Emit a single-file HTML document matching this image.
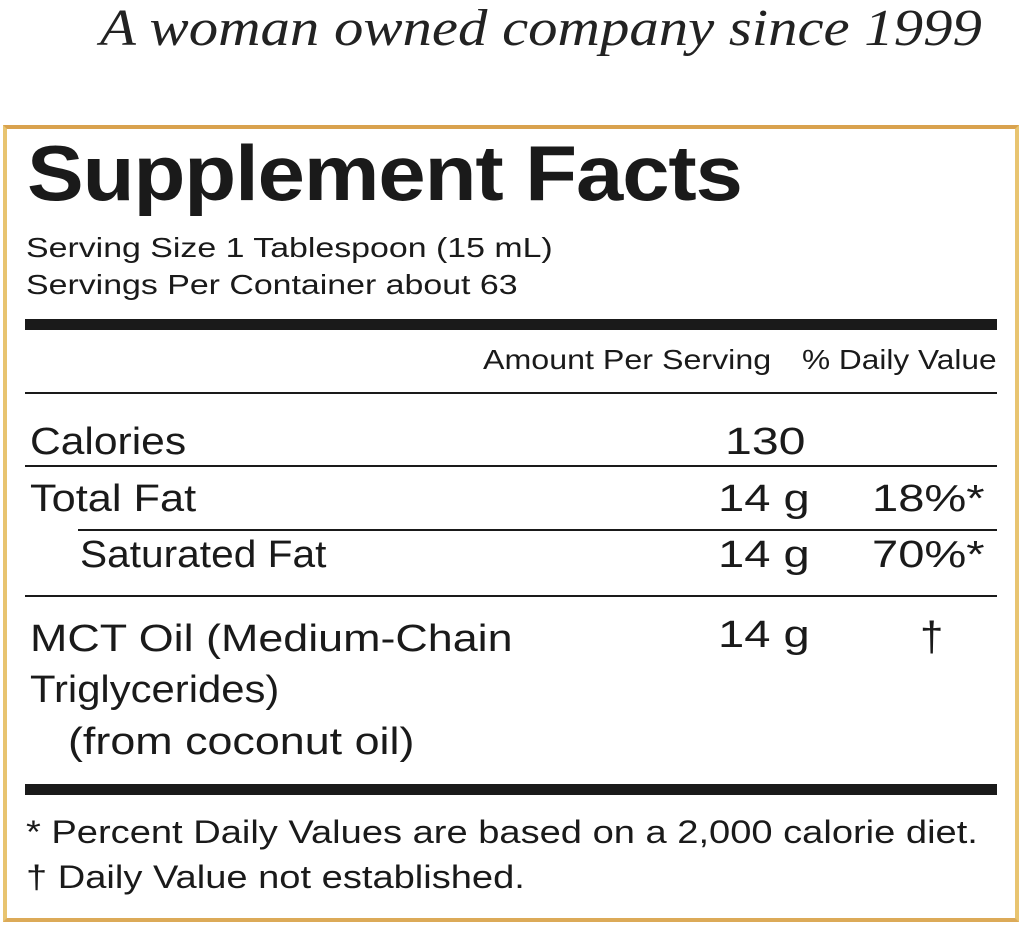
<!DOCTYPE html>
<html><head><meta charset="utf-8"><style>
body{margin:0;width:1024px;height:926px;background:#fff;position:relative;overflow:hidden;font-family:"Liberation Sans",sans-serif;color:#1a1a1a}
.t{position:absolute;line-height:1;white-space:nowrap;transform-origin:0 0}
.l{position:absolute;left:25px;width:972px;background:#1a1a1a}
.box{position:absolute;left:3px;top:125px;width:1008px;height:789px;border:4px solid #e8c470;border-top-color:#d9a24e;border-bottom-color:#dcaa58}
</style></head><body>
<div class="t" style="left:100px;top:3px;font-family:'Liberation Serif',serif;font-style:italic;font-size:52px;color:#222;transform:scaleX(1.13)">A woman owned company since 1999</div>
<div class="box"></div>
<div class="t" style="left:27px;top:134px;font-size:78px;font-weight:bold;letter-spacing:-1px;transform:scaleX(1.09)">Supplement Facts</div>
<div class="t" style="left:26px;top:234px;font-size:28px;transform:scaleX(1.21)">Serving Size 1 Tablespoon (15 mL)</div>
<div class="t" style="left:26px;top:271px;font-size:28px;transform:scaleX(1.21)">Servings Per Container about 63</div>
<div class="l" style="top:319px;height:11px"></div>
<div class="t" style="left:483px;top:346px;font-size:28px;transform:scaleX(1.15)">Amount Per Serving</div>
<div class="t" style="left:802px;top:346px;font-size:28px;transform:scaleX(1.13)">% Daily Value</div>
<div class="l" style="top:392px;height:2px"></div>
<div class="t" style="left:30px;top:423px;font-size:38px;transform:scaleX(1.12)">Calories</div>
<div class="t" style="left:725px;top:423px;font-size:38px;transform:scaleX(1.27)">130</div>
<div class="l" style="top:465px;height:2px"></div>
<div class="t" style="left:30px;top:480px;font-size:38px;transform:scaleX(1.14)">Total Fat</div>
<div class="t" style="left:718px;top:480px;font-size:38px;transform:scaleX(1.24)">14 g</div>
<div class="t" style="left:872px;top:480px;font-size:38px;transform:scaleX(1.24)">18%*</div>
<div class="l" style="top:529px;height:2px;left:78px;width:919px"></div>
<div class="t" style="left:80px;top:536px;font-size:38px;transform:scaleX(1.07)">Saturated Fat</div>
<div class="t" style="left:718px;top:536px;font-size:38px;transform:scaleX(1.24)">14 g</div>
<div class="t" style="left:872px;top:536px;font-size:38px;transform:scaleX(1.24)">70%*</div>
<div class="l" style="top:595px;height:2px"></div>
<div class="t" style="left:30px;top:620px;font-size:38px;transform:scaleX(1.18)">MCT Oil (Medium-Chain</div>
<div class="t" style="left:718px;top:616px;font-size:38px;transform:scaleX(1.24)">14 g</div>
<div class="t" style="left:920px;top:616px;font-size:42px">†</div>
<div class="t" style="left:30px;top:671px;font-size:38px;transform:scaleX(1.1)">Triglycerides)</div>
<div class="t" style="left:68px;top:723px;font-size:38px;transform:scaleX(1.18)">(from coconut oil)</div>
<div class="l" style="top:784px;height:11px"></div>
<div class="t" style="left:26px;top:816px;font-size:32px;transform:scaleX(1.19)">* Percent Daily Values are based on a 2,000 calorie diet.</div>
<div class="t" style="left:26px;top:861px;font-size:32px;transform:scaleX(1.19)">† Daily Value not established.</div>
</body></html>
